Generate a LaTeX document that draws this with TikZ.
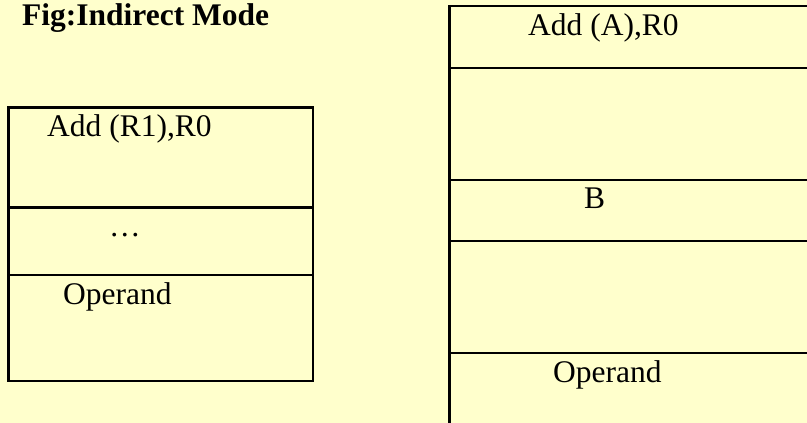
\documentclass[tikz,border=0pt]{standalone}
\usepackage{fontspec}
\setmainfont{Liberation Serif}
\definecolor{bgyellow}{HTML}{FFFFCC}
\tikzset{
  lbl/.style={inner sep=0pt, anchor=base west, font=\fontsize{31.5}{36}\selectfont},
  ttl/.style={inner sep=0pt, anchor=base west, font=\fontsize{31.5}{36}\selectfont\bfseries},
  cell/.style={draw=black, line width=2.7pt}
}
\begin{document}
\begin{tikzpicture}[x=1pt,y=-1pt]
\useasboundingbox (0,0) rectangle (807,423);
\fill[bgyellow] (0,0) rectangle (807,423);
\clip (0,0) rectangle (807,423);
% left memory box
\draw[cell] (8.3,107.3) rectangle (313,381);
\draw[cell] (8.3,207.3) -- (313,207.3);
\draw[cell] (8.3,275) -- (313,275);
% right memory box (continues beyond the picture)
\draw[cell] (830,6) -- (449.3,6) -- (449.3,440);
\draw[cell] (449.3,68) -- (830,68);
\draw[cell] (449.3,180) -- (830,180);
\draw[cell] (449.3,241) -- (830,241);
\draw[cell] (449.3,353) -- (830,353);
% texts
\node[ttl] (title) at (22,25) {Fig:Indirect Mode};
\node[lbl] (instl) at (47,136) {Add (R1),R0};
\node[lbl] (dots) at (109,236) {\ldots};
\node[lbl] (opl) at (63,304) {Operand};
\node[lbl] (instr) at (528,35) {Add (A),R0};
\node[lbl] (bcell) at (584,208) {B};
\node[lbl] (opr) at (553,382) {Operand};
\end{tikzpicture}
\end{document}
